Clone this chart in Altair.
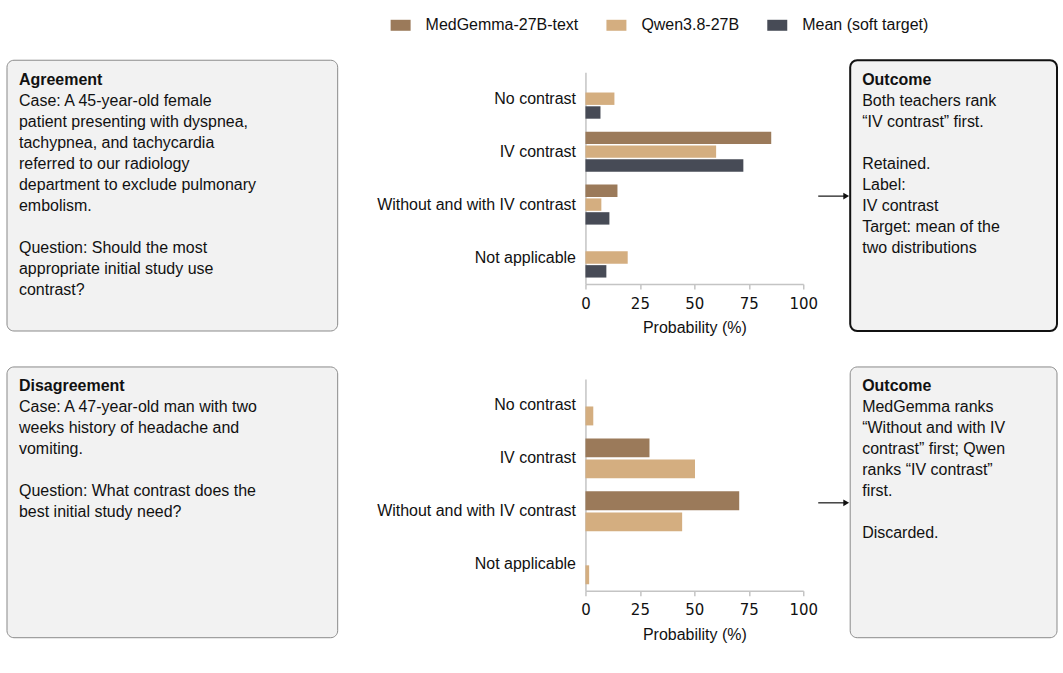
import altair as alt
import pandas as pd

# ---------------- data ----------------
categories = ["No contrast", "IV contrast", "Without and with IV contrast", "Not applicable"]
models = ["MedGemma-27B-text", "Qwen3.8-27B", "Mean (soft target)"]
colors = ["#9b7a5a", "#d4ae80", "#474b56"]

agree_medgemma = [0.0, 85.3, 14.7, 0.0]
agree_qwen = [13.3, 60.0, 7.3, 19.4]
agree_mean = [6.9, 72.5, 11.0, 9.6]

disagree_medgemma = [0.0, 29.4, 70.6, 0.0]
disagree_qwen = [3.6, 50.3, 44.4, 1.7]

x_ticks = [0, 25, 50, 75, 100]

agree_title = "Agreement"
agree_lines = [
    "Case: A 45-year-old female",
    "patient presenting with dyspnea,",
    "tachypnea, and tachycardia",
    "referred to our radiology",
    "department to exclude pulmonary",
    "embolism.",
    "",
    "Question: Should the most",
    "appropriate initial study use",
    "contrast?",
]
agree_out_title = "Outcome"
agree_out_lines = [
    "Both teachers rank",
    "\u201cIV contrast\u201d first.",
    "",
    "Retained.",
    "Label:",
    "IV contrast",
    "Target: mean of the",
    "two distributions",
]
disagree_title = "Disagreement"
disagree_lines = [
    "Case: A 47-year-old man with two",
    "weeks history of headache and",
    "vomiting.",
    "",
    "Question: What contrast does the",
    "best initial study need?",
]
disagree_out_title = "Outcome"
disagree_out_lines = [
    "MedGemma ranks",
    "\u201cWithout and with IV",
    "contrast\u201d first; Qwen",
    "ranks \u201cIV contrast\u201d",
    "first.",
    "",
    "Discarded.",
]


def long_df(series):
    rows = []
    for model, vals in series:
        for cat, v in zip(categories, vals):
            rows.append({"category": cat, "model": model, "value": v})
    return pd.DataFrame(rows)


df_agree = long_df([(models[0], agree_medgemma), (models[1], agree_qwen), (models[2], agree_mean)])
df_disagree = long_df([(models[0], disagree_medgemma), (models[1], disagree_qwen)])

FONT = "Liberation Sans"
AXIS_GRAY = "#c4c4c4"

PLOT_W = 218
PLOT_H = 212
GAP = 47
LEFT_W = 532
LEFT_BOX_W = 331
RIGHT_W = 207
LINE_H = 21


def bar_chart(df, offset_models):
    return alt.Chart(df).mark_bar().encode(
        x=alt.X(
            "value:Q",
            scale=alt.Scale(domain=[0, 100], nice=False),
            axis=alt.Axis(
                values=x_ticks, title="Probability (%)", grid=False,
                labelFont="DejaVu Sans", labelFontSize=15, labelColor="#111",
                labelFlush=False,
                labelPadding=7, tickSize=5, tickColor=AXIS_GRAY, tickWidth=1.5,
                domainColor=AXIS_GRAY, domainWidth=1.5,
                titleFont=FONT, titleFontSize=16, titleFontWeight="normal",
                titleColor="#111", titlePadding=9,
            ),
        ),
        y=alt.Y(
            "category:N",
            sort=categories,
            scale=alt.Scale(domain=categories, paddingInner=0.245, paddingOuter=0.1225),
            axis=alt.Axis(
                title=None, ticks=False, labelPadding=10, labelFont=FONT,
                labelFontSize=16, labelColor="#111", labelLimit=400,
                domainColor=AXIS_GRAY, domainWidth=1.5, grid=False,
            ),
        ),
        yOffset=alt.YOffset(
            "model:N",
            sort=offset_models,
            scale=alt.Scale(domain=offset_models, paddingInner=0.1, paddingOuter=0),
        ),
        color=alt.Color(
            "model:N",
            scale=alt.Scale(domain=models, range=colors),
            legend=alt.Legend(
                title=None, orient="none", direction="horizontal",
                legendX=384, legendY=-57,
                symbolType="M-1,-0.55H1V0.55H-1Z", symbolSize=400,
                symbolStrokeWidth=0, symbolOpacity=1,
                labelFont=FONT, labelFontSize=16, labelColor="#111",
                labelOffset=15, columnPadding=28, padding=0, labelLimit=400,
            ),
        ),
    ).properties(width=PLOT_W, height=PLOT_H)


one_row = pd.DataFrame({"k": [0]})


def paragraphs(lines):
    """Split lines into (start_index, [lines]) blocks at blank lines."""
    blocks, cur, start = [], [], 0
    for i, ln in enumerate(lines):
        if ln == "":
            if cur:
                blocks.append((start, cur))
            cur, start = [], i + 1
        else:
            if not cur:
                start = i
            cur.append(ln)
    if cur:
        blocks.append((start, cur))
    return blocks


def box_chart(width, box_w, title, lines, stroke, stroke_width, arrow=False):
    base = alt.Chart(one_row)
    rect = base.mark_rect(
        fill="#f2f2f2", stroke=stroke, strokeWidth=stroke_width, cornerRadius=7
    ).encode(x=alt.value(0), x2=alt.value(box_w), y=alt.value(-12), y2=alt.value(259))
    head = base.mark_text(
        text=title, align="left", baseline="alphabetic", font=FONT,
        fontSize=16, fontWeight="bold", color="#111",
    ).encode(x=alt.value(12), y=alt.value(12.5))
    layers = [rect, head]
    for start, block in paragraphs(lines):
        layers.append(
            base.mark_text(
                text="\n".join(block), lineBreak="\n", lineHeight=LINE_H, align="left",
                baseline="alphabetic", font=FONT, fontSize=16, color="#111",
            ).encode(x=alt.value(12), y=alt.value(33.5 + LINE_H * start))
        )
    if arrow:
        line = base.mark_rule(color="#111", strokeWidth=1.2).encode(
            x=alt.value(-32), x2=alt.value(-6), y=alt.value(124)
        )
        tip = base.mark_point(
            shape="triangle-right", filled=True, size=45, color="#111", opacity=1
        ).encode(x=alt.value(-4), y=alt.value(124))
        layers += [line, tip]
    return alt.layer(*layers).properties(width=width, height=PLOT_H)


row1 = alt.hconcat(
    box_chart(LEFT_W, LEFT_BOX_W, agree_title, agree_lines, "#8a8a8a", 1),
    bar_chart(df_agree, models),
    box_chart(RIGHT_W, RIGHT_W, agree_out_title, agree_out_lines, "#111", 2, arrow=True),
    spacing=GAP, bounds="flush",
)
row2 = alt.hconcat(
    box_chart(LEFT_W, LEFT_BOX_W, disagree_title, disagree_lines, "#8a8a8a", 1),
    bar_chart(df_disagree, models[:2]),
    box_chart(RIGHT_W, RIGHT_W, disagree_out_title, disagree_out_lines, "#8a8a8a", 1, arrow=True),
    spacing=GAP, bounds="flush",
)

chart = (
    alt.vconcat(row1, row2, spacing=307, bounds="flush")
    .resolve_scale(yOffset="independent", color="shared")
    .properties(padding={"left": 6, "top": 15, "right": 5, "bottom": 5}, background="white")
    .configure_view(strokeWidth=0)
)

chart.save("out.html", embed_options={"renderer": "svg", "actions": False})
